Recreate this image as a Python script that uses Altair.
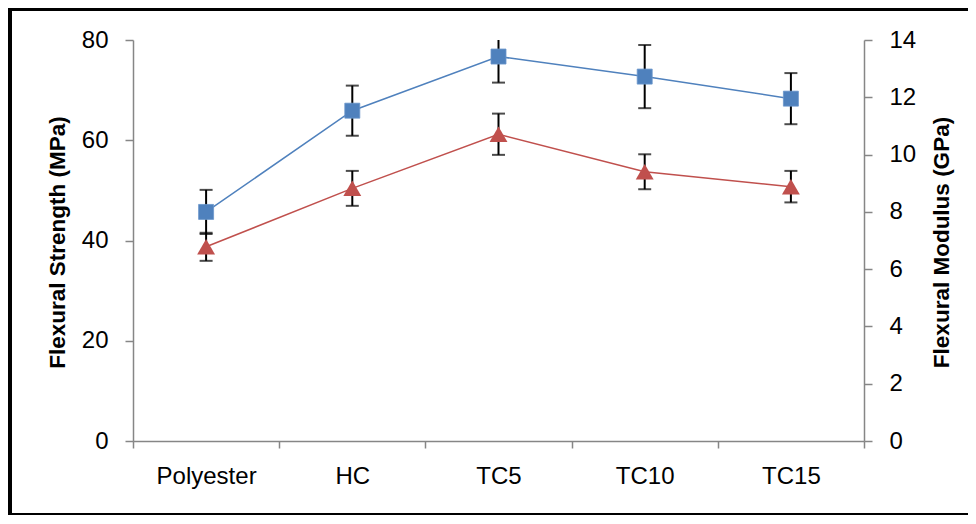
import altair as alt
import pandas as pd

categories = ["Polyester", "HC", "TC5", "TC10", "TC15"]
strength = [45.7, 65.9, 76.7, 72.7, 68.3]          # MPa (left axis, blue squares)
strength_err = [4.4, 5.0, 5.2, 6.3, 5.1]
modulus = [6.78, 8.82, 10.71, 9.40, 8.88]           # GPa (right axis, red triangles)
modulus_err = [0.49, 0.61, 0.72, 0.61, 0.55]

df = pd.DataFrame({
    "cat": categories,
    "s": strength,
    "se": strength_err,
    "m": modulus,
    "me": modulus_err,
})

FONT = "Liberation Sans"
GRAY = "#868686"
BLUE = "#4F81BD"
RED = "#C0504D"
LFS = 24

x_enc = alt.X(
    "cat:N", sort=categories, title=None,
    scale=alt.Scale(type="band", paddingInner=0, paddingOuter=0),
    axis=alt.Axis(
        tickBand="extent", labelAngle=0, labelFontSize=LFS, labelFont=FONT,
        labelColor="black", labelBaseline="alphabetic", labelPadding=35,
        tickSize=7, tickColor=GRAY, domainColor=GRAY, domainWidth=1.5,
        tickWidth=1.5, grid=False,
    ),
)

left_axis = alt.Axis(
    orient="left", values=[0, 20, 40, 60, 80], grid=False,
    title="Flexural Strength (MPa)", titleFont=FONT, titleFontSize=22.5,
    titleFontWeight="bold", titleColor="black", titleAngle=-90,
    titleX=-69, titleY=202, titleBaseline="alphabetic", titleAlign="center",
    labelFont=FONT, labelFontSize=LFS, labelColor="black", labelPadding=17,
    tickSize=8, tickColor=GRAY, domainColor=GRAY, domainWidth=1.5, tickWidth=1.5,
)
right_axis = alt.Axis(
    orient="right", values=[0, 2, 4, 6, 8, 10, 12, 14], grid=False,
    title="Flexural Modulus (GPa)", titleFont=FONT, titleFontSize=22.5,
    titleFontWeight="bold", titleColor="black", titleAngle=-90,
    titleX=84, titleY=202, titleBaseline="alphabetic", titleAlign="center",
    labelFont=FONT, labelFontSize=LFS, labelColor="black", labelPadding=17,
    tickSize=8, tickColor=GRAY, domainColor=GRAY, domainWidth=1.5, tickWidth=1.5,
)

s_scale = alt.Scale(domain=[0, 80], nice=False)
m_scale = alt.Scale(domain=[0, 14], nice=False)


def ys(field, scale, axis):
    return alt.Y(field, type="quantitative", scale=scale, axis=axis)


base = alt.Chart(df).transform_calculate(
    s_lo="datum.s - datum.se", s_hi="datum.s + datum.se",
    m_lo="datum.m - datum.me", m_hi="datum.m + datum.me",
)

# Strength group (left axis)
s_rule = base.mark_rule(color="black", strokeWidth=2, clip=True).encode(
    x=x_enc, y=ys("s_lo", s_scale, left_axis), y2="s_hi:Q")
s_cap_lo = base.mark_tick(color="black", thickness=2, size=13, orient="horizontal", clip=True).encode(
    x=x_enc, y=ys("s_lo", s_scale, left_axis))
s_cap_hi = base.mark_tick(color="black", thickness=2, size=13, orient="horizontal", clip=True).encode(
    x=x_enc, y=ys("s_hi", s_scale, left_axis))
s_line = base.mark_line(color=BLUE, strokeWidth=1.5).encode(
    x=x_enc, y=ys("s", s_scale, left_axis))
s_pts = base.mark_point(shape="square", filled=True, size=225, color=BLUE, opacity=1,
                        stroke="#6A96CC", strokeWidth=0.8).encode(
    x=x_enc, y=ys("s", s_scale, left_axis))
left = alt.layer(s_rule, s_cap_lo, s_cap_hi, s_line, s_pts)

# Modulus group (right axis)
m_rule = base.mark_rule(color="black", strokeWidth=2, clip=True).encode(
    x=x_enc, y=ys("m_lo", m_scale, right_axis), y2="m_hi:Q")
m_cap_lo = base.mark_tick(color="black", thickness=2, size=13, orient="horizontal", clip=True).encode(
    x=x_enc, y=ys("m_lo", m_scale, right_axis))
m_cap_hi = base.mark_tick(color="black", thickness=2, size=13, orient="horizontal", clip=True).encode(
    x=x_enc, y=ys("m_hi", m_scale, right_axis))
m_line = base.mark_line(color=RED, strokeWidth=1.5).encode(
    x=x_enc, y=ys("m", m_scale, right_axis))
m_pts = base.mark_point(shape="triangle-up", filled=True, size=320, color=RED, opacity=1).encode(
    x=x_enc, y=ys("m", m_scale, right_axis))
right = alt.layer(m_rule, m_cap_lo, m_cap_hi, m_line, m_pts)

# Decorative frame around the whole figure
frame_df = pd.DataFrame({"k": [0]})
frame_left = alt.Chart(frame_df).mark_rule(color="black", strokeWidth=4).encode(
    x=alt.value(-123), y=alt.value(-33), y2=alt.value(475))
frame_top = alt.Chart(frame_df).mark_rule(color="black", strokeWidth=4).encode(
    x=alt.value(-125), x2=alt.value(840), y=alt.value(-31))
frame_bottom = alt.Chart(frame_df).mark_rule(color="black", strokeWidth=2).encode(
    x=alt.value(-125), x2=alt.value(840), y=alt.value(474))

chart = alt.layer(left, right, frame_left, frame_top, frame_bottom).resolve_scale(
    y="independent"
).properties(
    width=731, height=401,
    autosize=alt.AutoSizeParams(type="none"),
    padding={"left": 125, "top": 32, "right": 104, "bottom": 75},
    background="white",
).configure_view(stroke=None)

chart.save("out.html", embed_options={"renderer": "svg", "actions": False})
